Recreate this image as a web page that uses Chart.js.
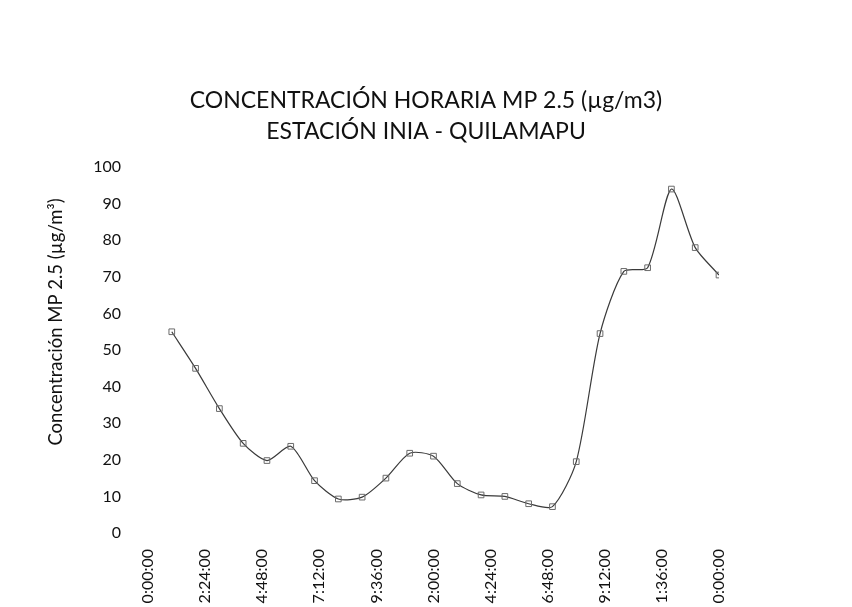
<!DOCTYPE html>
<html>
<head>
<meta charset="utf-8">
<script src="https://cdn.jsdelivr.net/npm/chart.js@4.4.0/dist/chart.umd.min.js"></script>
<style>
  html, body { margin: 0; padding: 0; background: #fff; }
  #wrap { width: 852px; height: 607px; }
</style>
</head>
<body>
<div id="wrap"><canvas id="grafico" width="852" height="607"></canvas></div>
<script>
// horas del día (1:00 ... 24:00) y concentración MP 2.5
const horas = [1, 2, 3, 4, 5, 6, 7, 8, 9, 10, 11, 12, 13, 14, 15, 16, 17, 18, 19, 20, 21, 22, 23, 24];
const concentracion = [55, 45, 34, 24.5, 19.8, 23.7, 14.3, 9.3, 9.8, 15, 21.8, 21, 13.5, 10.4, 10, 8, 7.2, 19.5, 54.5, 71.5, 72.5, 94, 78, 70.5];
const tickPos = [0, 2.4, 4.8, 7.2, 9.6, 12, 14.4, 16.8, 19.2, 21.6, 24];
const tickLabels = ["0:00:00", "2:24:00", "4:48:00", "7:12:00", "9:36:00", "2:00:00", "4:24:00", "6:48:00", "9:12:00", "1:36:00", "0:00:00"];
const tituloY = "Concentración MP 2.5 (µg/m³)";

const puntos = horas.map((h, i) => ({ x: h, y: concentracion[i] }));
const fuente = "Lato, 'Open Sans', sans-serif";

// titulo del eje Y dibujado a mano (en el original no esta centrado en el eje)
const tituloEjeY = {
  id: "tituloEjeY",
  afterDraw(chart) {
    const c = chart.ctx;
    c.save();
    c.translate(56, 322);
    c.rotate(-Math.PI / 2);
    c.font = "18.5px " + fuente;
    c.fillStyle = "#111";
    c.textAlign = "center";
    c.textBaseline = "middle";
    c.fillText(tituloY, 0, 0);
    c.restore();
  }
};

const ctx = document.getElementById("grafico").getContext("2d");
new Chart(ctx, {
  type: "line",
  data: {
    datasets: [{
      label: "MP 2.5",
      data: puntos,
      borderColor: "#3a3a3a",
      borderWidth: 1.2,
      pointStyle: "rect",
      pointRadius: 4,
      pointBackgroundColor: "rgba(255,255,255,0)",
      pointBorderColor: "#6a6a6a",
      pointBorderWidth: 1,
      tension: 0.25
    }]
  },
  options: {
    responsive: false,
    animation: false,
    layout: { padding: 0 },
    plugins: {
      legend: { display: false },
      tooltip: { enabled: false },
      title: {
        display: true,
        text: ["CONCENTRACIÓN HORARIA MP 2.5 (µg/m3)", "ESTACIÓN INIA - QUILAMAPU"],
        color: "#111",
        font: { family: fuente, size: 23, weight: "normal", lineHeight: 1.35 },
        padding: { top: 85, bottom: 20 }
      }
    },
    scales: {
      x: {
        type: "linear",
        min: 0,
        max: 24,
        grid: { display: false },
        border: { display: false },
        afterBuildTicks: axis => { axis.ticks = tickPos.map(v => ({ value: v })); },
        afterFit: axis => { axis.height = 74; },
        ticks: {
          maxRotation: 90,
          minRotation: 90,
          autoSkip: false,
          padding: 8,
          color: "#111",
          font: { family: fuente, size: 16 },
          callback: (v, i) => tickLabels[i]
        }
      },
      y: {
        min: 0,
        max: 100,
        grid: { display: false },
        border: { display: false },
        afterFit: axis => { axis.width = 148; },
        ticks: {
          stepSize: 10,
          padding: 19,
          color: "#111",
          font: { family: fuente, size: 16 }
        }
      },
      derecha: {
        position: "right",
        min: 0,
        max: 100,
        grid: { display: false },
        border: { display: false },
        ticks: { display: false },
        afterFit: axis => { axis.width = 133; }
      }
    }
  },
  plugins: [tituloEjeY]
});
</script>
</body>
</html>
